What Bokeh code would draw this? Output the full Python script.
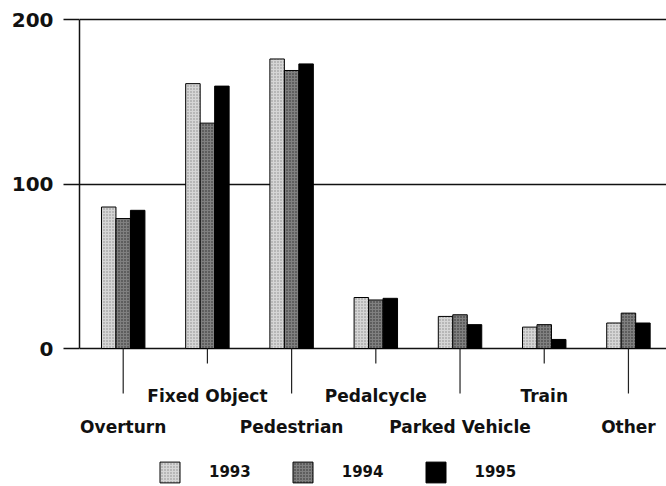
from bokeh.plotting import figure
from bokeh.models import Range1d, FixedTicker, ColumnDataSource
from bokeh.core.properties import value
from bokeh.embed import file_html
from bokeh.resources import INLINE

# ---- data ----
categories = ["Overturn", "Fixed Object", "Pedestrian", "Pedalcycle",
              "Parked Vehicle", "Train", "Other"]
years = ["1993", "1994", "1995"]
v1993 = [86, 161, 176, 31, 19.5, 13, 15.5]
v1994 = [79, 137, 169, 29.5, 20.5, 14.5, 21.5]
v1995 = [84, 159.5, 173, 30.5, 14.5, 5.5, 15.5]
y_ticks = [0, 100, 200]

# ---- layout constants (pixels) ----
FRAME_W, FRAME_H = 587, 470
BORDER_L, BORDER_T = 79, 16
PX_PER_UNIT = 329 / 200.0          # vertical scale
ZERO_PX_FROM_TOP = 332             # y=0 position within frame
u = 1 / PX_PER_UNIT
y_end = 200 + 3 * u
y_start = -(FRAME_H - ZERO_PX_FROM_TOP) * u

n = len(categories)
x_start, x_end = -0.019, 6.952

p = figure(frame_width=FRAME_W, frame_height=FRAME_H,
           min_border_left=BORDER_L, min_border_top=BORDER_T,
           min_border_right=0, min_border_bottom=0,
           x_range=Range1d(x_start, x_end), y_range=Range1d(y_start, y_end),
           x_axis_type=None, output_backend="svg", toolbar_location=None,
           background_fill_color="white", border_fill_color="white")
p.outline_line_color = None
p.xgrid.visible = False

# y axis
ya = p.yaxis[0]
ya.ticker = FixedTicker(ticks=y_ticks)
ya.bounds = (0, 200)
ya.axis_line_color = "#111111"
ya.axis_line_width = 1.5
ya.major_tick_out = 16
ya.major_tick_in = 0
ya.minor_tick_line_color = None
ya.major_tick_line_color = "#111111"
ya.major_tick_line_width = 1.5
ya.major_label_standoff = 10
ya.major_label_text_font = "DejaVu Sans"
ya.major_label_text_font_style = "bold"
ya.major_label_text_font_size = "20px"
ya.major_label_text_color = "#111111"

p.ygrid.ticker = FixedTicker(ticks=y_ticks)
p.ygrid.grid_line_color = "#111111"
p.ygrid.grid_line_width = 1.5

# bars
centers = [i + 0.5 for i in range(n)]
bw = 0.172
series = [v1993, v1994, v1995]
offsets = [-bw, 0, bw]
styles = [
    dict(fill_color="#d6d6d6", hatch_pattern="dot", hatch_color="#8a8a8a", hatch_scale=3, hatch_weight=1),
    dict(fill_color="#808080", hatch_pattern="dot", hatch_color="#2a2a2a", hatch_scale=3, hatch_weight=1.2),
    dict(fill_color="#000000"),
]
for yr, vals, off, st in zip(years, series, offsets, styles):
    src = ColumnDataSource(dict(x=[c + off for c in centers], top=vals))
    p.vbar(x="x", top="top", width=bw, bottom=0, source=src,
           line_color="black", line_width=1, legend_label=yr, **st)

# category tick marks and alternating labels
short_t, long_t = 15 * u, 45 * u
upper_base, lower_base = -47 * u, -78.7 * u
tick_len = [long_t if i % 2 == 0 else short_t for i in range(n)]
p.segment(x0=centers, y0=[0] * n, x1=centers, y1=[-t for t in tick_len],
          line_color="#222222", line_width=1.2)
label_y = [lower_base if i % 2 == 0 else upper_base for i in range(n)]
p.text(x=centers, y=label_y, text=categories, text_align="center",
       text_baseline="alphabetic", text_font=value("DejaVu Sans"),
       text_font_style="bold", text_font_size="17px", text_color="#111111")

# legend
lg = p.legend[0]
lg.orientation = "horizontal"
lg.location = (78, 1)
lg.glyph_width = 25
lg.glyph_height = 26
lg.label_standoff = 27
lg.spacing = 39
lg.padding = 0
lg.margin = 0
lg.border_line_color = None
lg.background_fill_alpha = 0
lg.label_text_font = "DejaVu Sans"
lg.label_text_font_style = "bold"
lg.label_text_font_size = "15px"
lg.label_text_color = "#111111"

open("out.html", "w").write(file_html(p, INLINE))
